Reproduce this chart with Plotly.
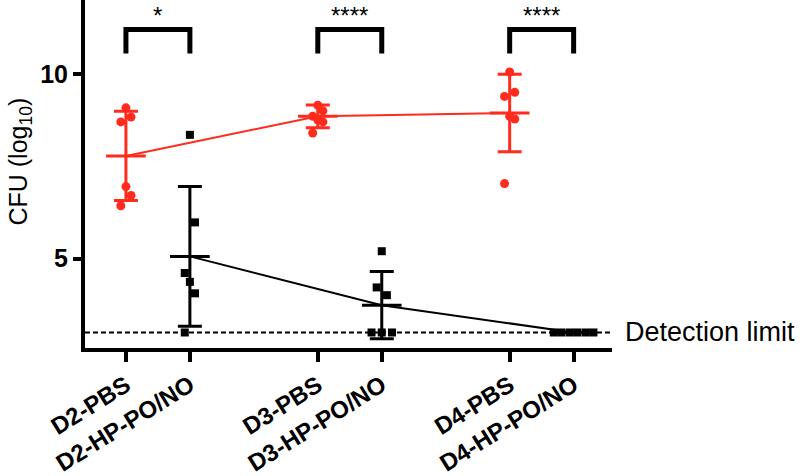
import plotly.graph_objects as go

# groups on the x axis
groups = ['D2-PBS', 'D2-HP-PO/NO', 'D3-PBS', 'D3-HP-PO/NO', 'D4-PBS', 'D4-HP-PO/NO']
group_pos = [0, 1, 3, 4, 6, 7]

# individual CFU values (log10)
pbs_d2 = [9.08, 8.83, 8.70, 6.95, 6.71, 6.43]
pbs_d3 = [9.15, 9.00, 8.85, 8.75, 8.70, 8.40]
pbs_d4 = [10.05, 9.50, 9.39, 8.85, 8.78, 7.03]
hp_d2 = [8.35, 5.98, 4.61, 4.37, 4.06, 3.00]
hp_d3 = [5.20, 4.22, 4.01, 3.00, 3.00, 3.00]
hp_d4 = [3.00, 3.00, 3.00, 3.00, 3.00, 3.00]

# group means and SD as drawn
pbs_mean = [7.78, 8.85, 8.94]
pbs_sd = [1.21, 0.31, 1.05]
hp_mean = [5.06, 3.74, 3.00]
hp_sd = [1.89, 0.91, 0.0]

stars = ['*', '****', '****']
detection_limit = 3.0

red = '#FF2B1C'
font = 'Liberation Sans, Arial, sans-serif'

# horizontal spread of dots (dot-plot style)
jitter = [0.0, 0.08, -0.08, 0.0, 0.08, -0.08]
spread_d3 = [0.0, -0.08, 0.08, -0.16, 0.0, 0.16]
spread_d4 = [-0.31, -0.19, -0.06, 0.06, 0.19, 0.31]

pbs_x = group_pos[0::2]
hp_x = group_pos[1::2]

fig = go.Figure()

# detection limit line
fig.add_trace(go.Scatter(
    x=[-0.64, 7.6], y=[detection_limit, detection_limit], mode='lines',
    line=dict(color='black', width=2, dash='5px,3px'), hoverinfo='skip',
    cliponaxis=False))

# mean lines + SD bars
fig.add_trace(go.Scatter(
    x=pbs_x, y=pbs_mean, mode='lines', line=dict(color=red, width=2),
    error_y=dict(type='data', array=pbs_sd, color=red, thickness=3, width=12),
    error_x=dict(type='constant', value=0.31, color=red, thickness=3, width=0)))
fig.add_trace(go.Scatter(
    x=hp_x, y=hp_mean, mode='lines', line=dict(color='black', width=2),
    error_y=dict(type='data', array=hp_sd, color='black', thickness=3, width=12),
    error_x=dict(type='constant', value=0.31, color='black', thickness=3, width=0)))

# individual points
for pos, vals in zip(pbs_x, [pbs_d2, pbs_d3, pbs_d4]):
    fig.add_trace(go.Scatter(
        x=[pos + j for j in jitter], y=vals, mode='markers',
        marker=dict(color=red, size=9, symbol='circle')))

for pos, vals, off in zip(hp_x, [hp_d2, hp_d3, hp_d4], [jitter, spread_d3, spread_d4]):
    fig.add_trace(go.Scatter(
        x=[pos + j for j in off], y=vals, mode='markers',
        marker=dict(color='black', size=8, symbol='square')))

# significance brackets
for i, s in enumerate(stars):
    x0, x1 = pbs_x[i], hp_x[i]
    fig.add_shape(type='path', xref='x', yref='y',
                  path=f'M {x0},10.55 L {x0},11.2 L {x1},11.2 L {x1},10.55',
                  line=dict(color='black', width=5))
    fig.add_annotation(x=(x0 + x1) / 2, y=1, yref='paper', yanchor='top',
                       text=s, showarrow=False,
                       font=dict(family=font, size=24, color='black'))

fig.add_annotation(x=1.02, xref='paper', y=detection_limit, yref='y',
                   text='Detection limit', showarrow=False, xanchor='left',
                   font=dict(family=font, size=27, color='black'))

# y axis title
fig.add_annotation(x=-0.158, xref='paper', y=0.535, yref='paper',
                   text='CFU (log<sub>10</sub>)', showarrow=False, textangle=-90,
                   font=dict(family=font, size=25, color='black'))

fig.update_layout(
    width=800, height=476,
    margin=dict(l=85, r=188, t=0, b=128),
    plot_bgcolor='white', paper_bgcolor='white',
    showlegend=False,
    font=dict(family=font, color='black'),
    xaxis=dict(
        range=[-0.64, 7.6], tickvals=group_pos, automargin=False,
        ticktext=[f'<b>{g}</b>' for g in groups], tickangle=-32,
        tickfont=dict(size=24), showgrid=False, zeroline=False,
        showline=True, linecolor='black', linewidth=4,
        ticks='outside', ticklen=10, tickwidth=4, tickcolor='black'),
    yaxis=dict(
        range=[2.58, 12.0], tickvals=[5, 10], ticktext=['<b>5</b>', '<b>10</b>'],
        automargin=False,
        tickfont=dict(size=25), showgrid=False, zeroline=False,
        showline=True, linecolor='black', linewidth=4,
        ticks='outside', ticklen=8, tickwidth=4, tickcolor='black'),
)

fig.write_html('out.html', config={'displayModeBar': False},
               post_script="document.body.style.margin='0';")
